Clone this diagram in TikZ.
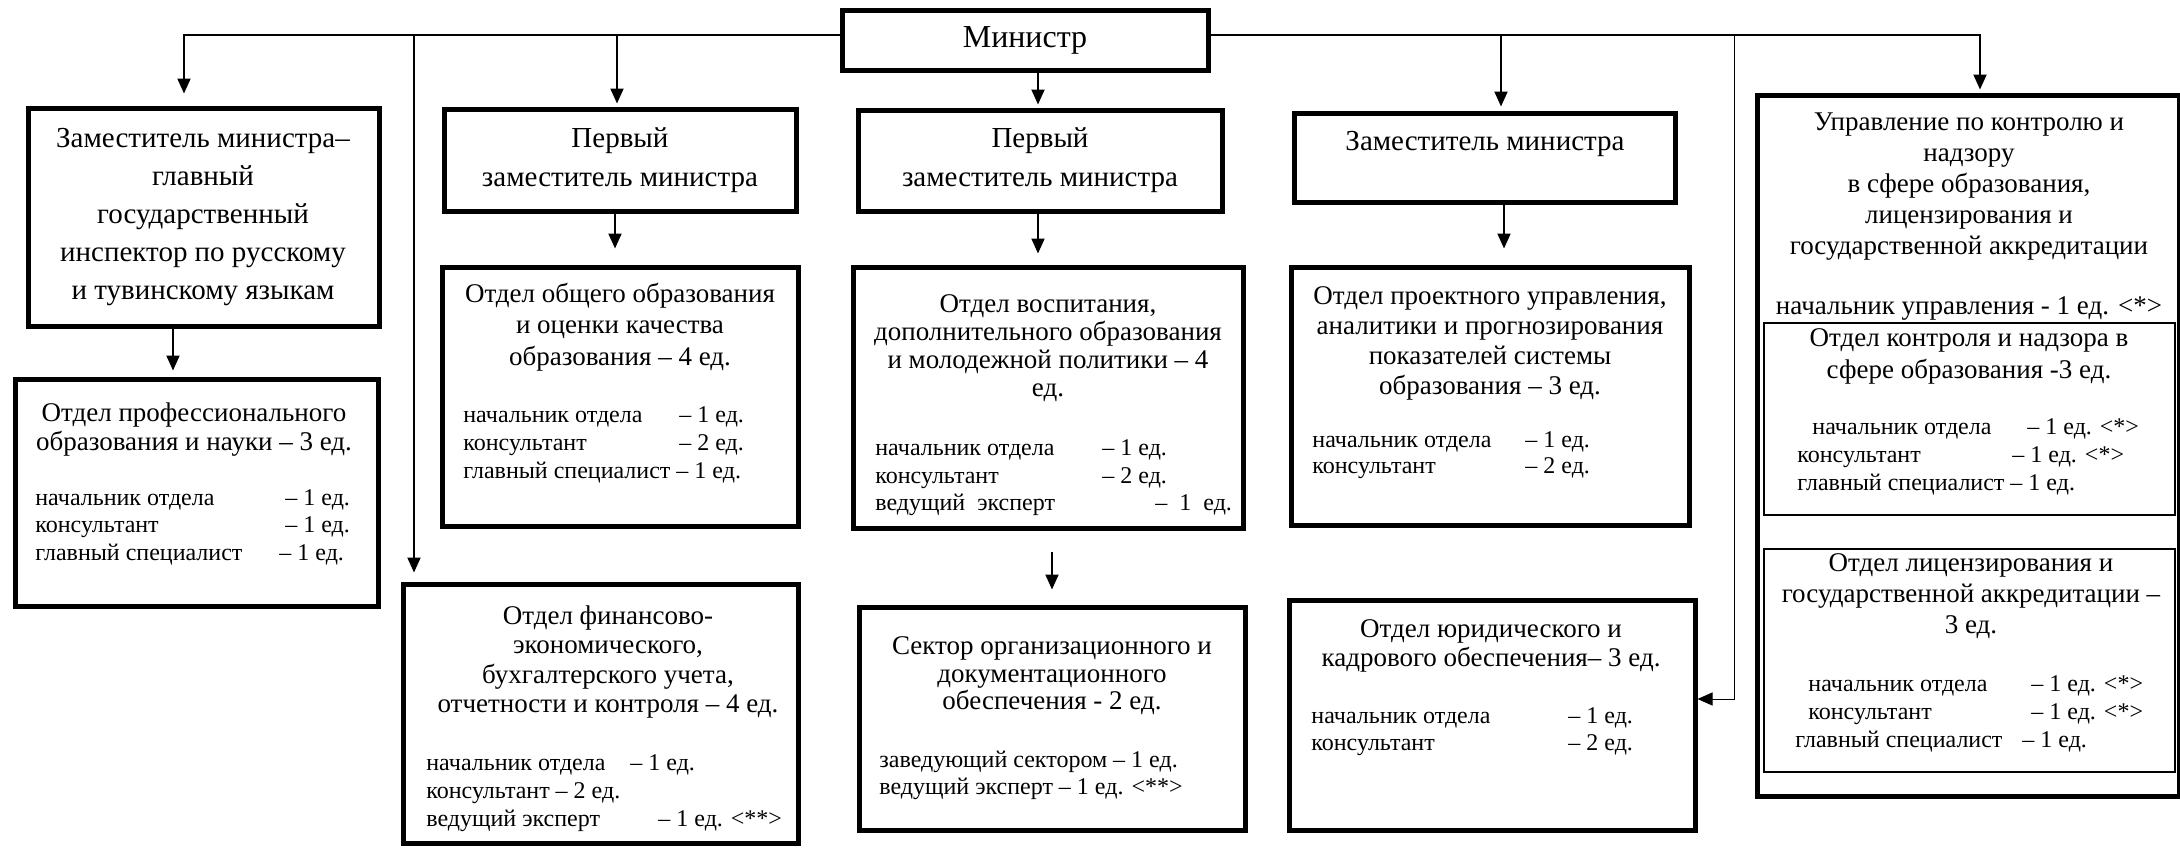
\documentclass[tikz,border=0pt]{standalone}
\usepackage{fontspec}
\setmainfont{Liberation Serif}
\usetikzlibrary{arrows.meta,fit}
\newcommand{\fsz}[2]{\fontsize{#1}{#2}\selectfont}
\begin{document}
\begin{tikzpicture}[x=0.5pt,y=-0.5pt,
  bigbox/.style={draw, line width=2.5pt, inner sep=0pt},
  midbox/.style={draw, line width=1.2pt, inner sep=0pt},
  arr/.style={line width=1pt, -{Triangle[length=7.5pt,width=6.5pt]}},
  thinarr/.style={line width=0.5pt, -{Triangle[length=7.5pt,width=6.5pt]}},
  ttl/.style={align=center, inner sep=0pt},
  staff/.style={align=left, anchor=west, inner sep=0pt},
]
\useasboundingbox (0,0) rectangle (2180,847);

% boxes
\node[bigbox, fit={(842,10) (1208,70)}] (mn) {};
\node[bigbox, fit={(28,108) (379,326)}] (zam1) {};
\node[bigbox, fit={(444,109) (796,211)}] (perv1) {};
\node[bigbox, fit={(858,110) (1222,211)}] (perv2) {};
\node[bigbox, fit={(1294,113) (1675,202)}] (zam2) {};
\node[bigbox, fit={(1757,95) (2179,796)}] (upr) {};
\node[bigbox, fit={(15,379) (378,606)}] (prof) {};
\node[bigbox, fit={(442,267) (798,526)}] (obsh) {};
\node[bigbox, fit={(853,267) (1243,528)}] (vosp) {};
\node[bigbox, fit={(1291,267) (1689,525)}] (proe) {};
\node[bigbox, fit={(403,584) (798,843)}] (fin) {};
\node[bigbox, fit={(859,607) (1245,830)}] (sect) {};
\node[bigbox, fit={(1289,600) (1695,830)}] (jur) {};
\node[midbox, fit={(1764,323) (2175,515)}] (kon) {};
\node[midbox, fit={(1764,549) (2175,772)}] (lic) {};

% titles
\node[ttl, font=\fsz{16}{19}] (tmn) at (1025,40) {Министр};
\node[ttl, font=\fsz{14.5}{19}] (tzam1) at (203,217.5) {Заместитель министра–\\главный\\государственный\\инспектор по русскому\\и тувинскому языкам};
\node[ttl, font=\fsz{14.5}{19.5}] (tperv1) at (620,160.5) {Первый\\заместитель министра};
\node[ttl, font=\fsz{14.5}{19.5}] (tperv2) at (1040,160.5) {Первый\\заместитель министра};
\node[ttl, font=\fsz{14.5}{19}] (tzam2) at (1485,144) {Заместитель министра};
\node[ttl, font=\fsz{13.5}{15.4}] (tupr) at (1969,186.5) {Управление по контролю и\\надзору\\в сфере образования,\\лицензирования и\\государственной аккредитации};
\node[ttl, font=\fsz{13.5}{15.4}] (tupr2) at (1969,308) {начальник управления - 1 ед. <*>};
\node[ttl, font=\fsz{13.5}{14.5}] (tprof) at (194,430) {Отдел профессионального\\образования и науки – 3 ед.};
\node[ttl, font=\fsz{13.5}{15.75}] (tobsh) at (620,327) {Отдел общего образования\\и оценки качества\\образования – 4 ед.};
\node[ttl, font=\fsz{13.5}{14}] (tvosp) at (1048,348) {Отдел воспитания,\\дополнительного образования\\и молодежной политики – 4\\ед.};
\node[ttl, font=\fsz{13.5}{15}] (tproe) at (1490,343) {Отдел проектного управления,\\аналитики и прогнозирования\\показателей системы\\образования – 3 ед.};
\node[ttl, font=\fsz{13.5}{14.6}] (tfin) at (608,662) {Отдел финансово-\\экономического,\\бухгалтерского учета,\\отчетности и контроля – 4 ед.};
\node[ttl, font=\fsz{13.5}{13.75}] (tsect) at (1052,676) {Сектор организационного и\\документационного\\обеспечения - 2 ед.};
\node[ttl, font=\fsz{13.5}{14.5}] (tjur) at (1491,646) {Отдел юридического и\\кадрового обеспечения– 3 ед.};
\node[ttl, font=\fsz{13.5}{16}] (tkon) at (1969,356) {Отдел контроля и надзора в\\сфере образования -3 ед.};
\node[ttl, font=\fsz{13.5}{15.5}] (tlic) at (1971,596) {Отдел лицензирования и\\государственной аккредитации –\\3 ед.};

% staff lists
\node[staff, font=\fsz{12}{13.75}] (sprof) at (35,527) {\makebox[125pt][l]{начальник отдела}– 1 ед.\\\makebox[125pt][l]{консультант}– 1 ед.\\\makebox[122pt][l]{главный специалист}– 1 ед.};
\node[staff, font=\fsz{12}{14}] (sobsh) at (463,445) {\makebox[108pt][l]{начальник отдела}– 1 ед.\\\makebox[108pt][l]{консультант}– 2 ед.\\главный специалист – 1 ед.};
\node[staff, font=\fsz{12}{13.75}] (svosp) at (875,478) {\makebox[113.5pt][l]{начальник отдела}– 1 ед.\\\makebox[113.5pt][l]{консультант}– 2 ед.\\\makebox[140pt][l]{ведущий\ \ эксперт}– \ 1 \ ед.};
\node[staff, font=\fsz{12}{13}] (sproe) at (1312,455.5) {\makebox[106.5pt][l]{начальник отдела}– 1 ед.\\\makebox[106.5pt][l]{консультант}– 2 ед.};
\node[staff, font=\fsz{12}{14}] (sfin) at (426,793) {\makebox[102pt][l]{начальник отдела}– 1 ед.\\консультант – 2 ед.\\\makebox[116pt][l]{ведущий эксперт}– 1 ед. <**>};
\node[staff, font=\fsz{12}{13.5}] (ssect) at (879,775) {заведующий сектором – 1 ед.\\ведущий эксперт – 1 ед. <**>};
\node[staff, font=\fsz{12}{13.5}] (sjur) at (1311,732) {\makebox[128.5pt][l]{начальник отдела}– 1 ед.\\\makebox[128.5pt][l]{консультант}– 2 ед.};
\node[staff, font=\fsz{12}{14}] (skon) at (1797,457) {\hspace*{7.5pt}\makebox[107.5pt][l]{начальник отдела}– 1 ед. <*>\\\makebox[107.5pt][l]{консультант}– 1 ед. <*>\\главный специалист – 1 ед.};
\node[staff, font=\fsz{12}{14}] (slic) at (1795,714) {\hspace*{6.5pt}\makebox[111.5pt][l]{начальник отдела}– 1 ед. <*>\\\hspace*{6.5pt}\makebox[111.5pt][l]{консультант}– 1 ед. <*>\\\makebox[113.5pt][l]{главный специалист}– 1 ед.};

% connectors
\coordinate (hl) at (0,35);
\coordinate (a1) at (184,35);
\coordinate (a2) at (414,35);
\coordinate (a3) at (617,35);
\coordinate (a4) at (1501,35);
\coordinate (a5) at (1980,35);
\coordinate (a6) at (1734,35);
\coordinate (a7) at (1734,699);
\coordinate (b1) at (173,0);
\coordinate (b2) at (615,0);
\coordinate (b3) at (1038,0);
\coordinate (b4) at (1504,0);
\coordinate (b5) at (1052,0);

\draw[arr, shorten >=6pt] (mn.west |- hl) -| (a1 |- zam1.north);
\draw[arr, shorten >=4.5pt] (a2) -- (a2 |- fin.north);
\draw[arr, shorten >=1.5pt] (a3) -- (a3 |- perv1.north);
\draw[arr, shorten >=1.5pt] (mn.south -| b3) -- (perv2.north -| b3);
\draw[arr, shorten >=1.5pt] (mn.east |- hl) -| (a5 |- upr.north);
\draw[arr, shorten >=2pt] (a4) -- (a4 |- zam2.north);
\draw[thinarr] (a6) -- (a7) -- (a7 -| jur.east);

\draw[arr, shorten >=3pt] (zam1.south -| b1) -- (prof.north -| b1);
\draw[arr, shorten >=8pt] (perv1.south -| b2) -- (obsh.north -| b2);
\draw[arr, shorten >=5.5pt] (perv2.south -| b3) -- (vosp.north -| b3);
\draw[arr, shorten >=8pt] (zam2.south -| b4) -- (proe.north -| b4);
\draw[arr, shorten <=10.5pt, shorten >=7.5pt] (vosp.south -| b5) -- (sect.north -| b5);
\end{tikzpicture}
\end{document}
